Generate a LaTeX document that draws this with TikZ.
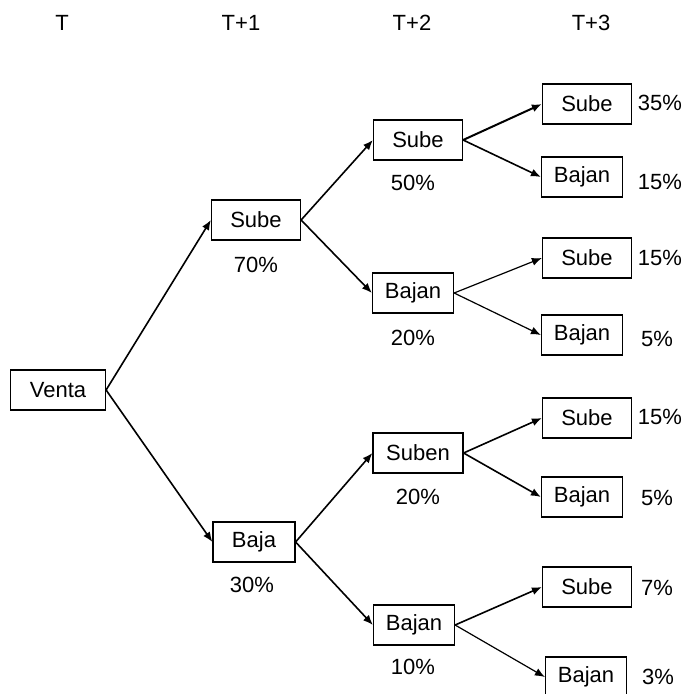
\documentclass[tikz,border=0pt]{standalone}
\usepackage{fontspec}
\setmainfont{Liberation Sans}
\usetikzlibrary{arrows.meta}
\begin{document}
\begin{tikzpicture}[x=0.5pt,y=-0.5pt,>={Latex[length=5pt,width=4pt]},
    font=\fontsize{11}{13}\selectfont,
    caja/.style={draw,line width=0.6pt,minimum height=20pt,inner sep=0pt},
    ancha/.style={caja,minimum width=44.5pt},
    angosta/.style={caja,minimum width=40.5pt},
    flecha/.style={->,line width=0.8pt}]
  \useasboundingbox (0,0) rectangle (687,694);

  % periodos
  \node (h0) at (62,23) {T};
  \node (h1) at (241,23) {T+1};
  \node (h2) at (412,23) {T+2};
  \node (h3) at (591,23) {T+3};

  % T y T+1
  \node[caja,minimum width=47.5pt] (venta) at (58,390) {Venta};
  \node[ancha] (s1) at (256,220) {Sube};
  \node[caja,minimum width=41pt] (b1) at (254,542) {Baja};
  \node (p70) at (256,265) {70\%};
  \node (p30) at (252,585) {30\%};

  % T+2
  \node[ancha] (ss) at (418,140) {Sube};
  \node[angosta] (sb) at (413,293) {Bajan};
  \node[caja,minimum width=45pt] (bs) at (418,453) {Suben};
  \node[angosta] (bb) at (414,625) {Bajan};
  \node (p50) at (413,183) {50\%};
  \node (p20a) at (413,338) {20\%};
  \node (p20b) at (418,497) {20\%};
  \node (p10) at (413,667) {10\%};

  % T+3
  \node[ancha] (sss) at (587,104) {Sube};
  \node[angosta] (ssb) at (582,177) {Bajan};
  \node[ancha] (sbs) at (587,258) {Sube};
  \node[angosta] (sbb) at (582,335) {Bajan};
  \node[ancha] (bss) at (587,418) {Sube};
  \node[angosta] (bsb) at (582,497) {Bajan};
  \node[ancha] (bbs) at (587,587) {Sube};
  \node[angosta] (bbb) at (586,677) {Bajan};

  \node (q1) at (660,103) {35\%};
  \node (q2) at (660,182) {15\%};
  \node (q3) at (660,258) {15\%};
  \node (q4) at (657,339) {5\%};
  \node (q5) at (660,417) {15\%};
  \node (q6) at (657,498) {5\%};
  \node (q7) at (657,588) {7\%};
  \node (q8) at (658,677) {3\%};

  % flechas
  \draw[flecha] (venta.east) -- (s1.west);
  \draw[flecha] (venta.east) -- (b1.west);
  \draw[flecha] (s1.east) -- (ss.west);
  \draw[flecha] (s1.east) -- (sb.west);
  \draw[flecha] (b1.east) -- (bs.west);
  \draw[flecha] (b1.east) -- (bb.west);
  \draw[flecha,line width=1pt] (ss.east) -- (sss.west);
  \draw[flecha] (ss.east) -- (ssb.west);
  \draw[flecha,line width=0.6pt] (sb.east) -- (sbs.west);
  \draw[flecha,line width=0.6pt] (sb.east) -- (sbb.west);
  \draw[flecha] (bs.east) -- (bss.west);
  \draw[flecha] (bs.east) -- (bsb.west);
  \draw[flecha] (bb.east) -- (bbs.west);
  \draw[flecha,line width=0.6pt] (bb.east) -- (bbb.west);
\end{tikzpicture}
\end{document}
